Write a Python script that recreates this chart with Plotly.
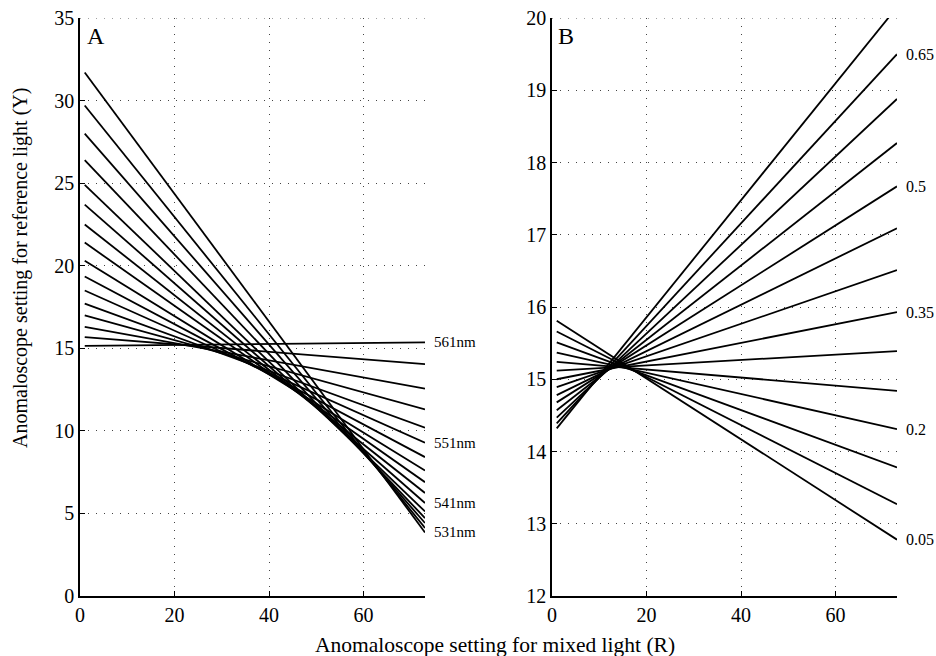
import plotly.graph_objects as go

# ---------------- data ----------------
R_ENDS = [1, 73]  # mixed-light settings where each line starts / ends

# Panel A: wavelengths (nm) with Y at R=1 and Y at R=73
A_WAVELENGTHS = [531, 533, 535, 537, 539, 541, 543, 545, 547, 549, 551, 553, 555, 557, 559, 561]
A_Y_START = [31.7, 29.7, 28.0, 26.4, 24.9, 23.7, 22.5, 21.4, 20.3, 19.35, 18.5, 17.7, 17.0, 16.3, 15.67, 15.15]
A_Y_END = [3.85, 4.12, 4.42, 4.72, 5.12, 5.63, 6.24, 6.89, 7.6, 8.41, 9.28, 10.19, 11.3, 12.56, 14.04, 15.36]
A_LABELLED = [561, 551, 541, 531]

# Panel B: proportions with Y at R=1 and Y at R=73
B_PROPORTIONS = [0.05, 0.10, 0.15, 0.20, 0.25, 0.30, 0.35, 0.40, 0.45, 0.50, 0.55, 0.60, 0.65, 0.70]
B_Y_START = [15.81, 15.66, 15.51, 15.37, 15.24, 15.12, 15.0, 14.89, 14.78, 14.68, 14.57, 14.47, 14.39, 14.32]
B_Y_END = [12.78, 13.27, 13.78, 14.31, 14.84, 15.39, 15.93, 16.51, 17.09, 17.67, 18.27, 18.88, 19.50, 20.15]
B_LABELLED = [0.65, 0.5, 0.35, 0.2, 0.05]

X_TICKS = [0, 20, 40, 60]
A_Y_TICKS = [0, 5, 10, 15, 20, 25, 30, 35]
B_Y_TICKS = [12, 13, 14, 15, 16, 17, 18, 19, 20]

X_TITLE = "Anomaloscope setting for mixed light (R)"
Y_TITLE = "Anomaloscope setting for reference light (Y)"

# ---------------- figure ----------------
SERIF = "Liberation Serif, Times New Roman, serif"
W, H = 936, 656
LINE = dict(color="black", width=1.8)
GRID_COLOR = "#444"
GRID_DASH = "1px,7px"

fig = go.Figure()

for wl, y0, y1 in zip(A_WAVELENGTHS, A_Y_START, A_Y_END):
    fig.add_trace(go.Scatter(x=R_ENDS, y=[y0, y1], mode="lines", line=LINE,
                             xaxis="x", yaxis="y", showlegend=False, hoverinfo="skip",
                             name=f"{wl}nm"))

for p, y0, y1 in zip(B_PROPORTIONS, B_Y_START, B_Y_END):
    fig.add_trace(go.Scatter(x=R_ENDS, y=[y0, y1], mode="lines", line=LINE,
                             xaxis="x2", yaxis="y2", showlegend=False, hoverinfo="skip",
                             name=str(p)))

annotations = []
for wl in A_LABELLED:
    i = A_WAVELENGTHS.index(wl)
    annotations.append(dict(x=R_ENDS[1], y=A_Y_END[i], xref="x", yref="y",
                            text=f"{wl}nm", showarrow=False, xanchor="left",
                            yanchor="middle", xshift=7,
                            font=dict(family=SERIF, size=15, color="black")))
for p in B_LABELLED:
    i = B_PROPORTIONS.index(p)
    annotations.append(dict(x=R_ENDS[1], y=B_Y_END[i], xref="x2", yref="y2",
                            text=f"{p:g}", showarrow=False, xanchor="left",
                            yanchor="middle", xshift=7,
                            font=dict(family=SERIF, size=16, color="black")))

annotations.append(dict(x=0, y=1, xref="x domain", yref="y domain", text="A",
                        showarrow=False, xanchor="left", yanchor="top",
                        xshift=5, yshift=-3,
                        font=dict(family=SERIF, size=24, color="black")))
annotations.append(dict(x=0, y=1, xref="x2 domain", yref="y2 domain", text="B",
                        showarrow=False, xanchor="left", yanchor="top",
                        xshift=4, yshift=-3,
                        font=dict(family=SERIF, size=24, color="black")))

annotations.append(dict(x=495 / W, y=(H - 645) / H, xref="paper", yref="paper",
                        text=X_TITLE, showarrow=False, xanchor="center", yanchor="middle",
                        font=dict(family=SERIF, size=21.5, color="black")))
annotations.append(dict(x=20 / W, y=(H - 268) / H, xref="paper", yref="paper",
                        text=Y_TITLE, showarrow=False, xanchor="center", yanchor="middle",
                        textangle=-90,
                        font=dict(family=SERIF, size=20, color="black")))

# dotted grid line along the top edge of each panel (top tick value)
shapes = [
    dict(type="line", xref="x domain", yref="y", x0=0, x1=1,
         y0=A_Y_TICKS[-1], y1=A_Y_TICKS[-1],
         line=dict(color=GRID_COLOR, width=1, dash=GRID_DASH), layer="below"),
    dict(type="line", xref="x2 domain", yref="y2", x0=0, x1=1,
         y0=B_Y_TICKS[-1], y1=B_Y_TICKS[-1],
         line=dict(color=GRID_COLOR, width=1, dash=GRID_DASH), layer="below"),
]

axis_common = dict(
    showline=True, linecolor="black", linewidth=1.5,
    ticks="inside", ticklen=5, tickwidth=1.2, tickcolor="black",
    showgrid=True, gridcolor=GRID_COLOR, gridwidth=1, griddash=GRID_DASH,
    zeroline=False, automargin=False,
    tickfont=dict(family=SERIF, size=20, color="black"),
)

y_dom = [(H - 596) / H, (H - 18) / H]

fig.update_layout(
    width=W, height=H,
    margin=dict(l=0, r=0, t=0, b=0),
    paper_bgcolor="white", plot_bgcolor="white",
    xaxis=dict(domain=[80 / W, 425 / W], range=[0, 73], tickvals=X_TICKS,
               anchor="y", **axis_common),
    yaxis=dict(domain=y_dom, range=[0, 35], tickvals=A_Y_TICKS, anchor="x",
               ticklabelstandoff=0, **axis_common),
    xaxis2=dict(domain=[552 / W, 897 / W], range=[0, 73], tickvals=X_TICKS,
                anchor="y2", **axis_common),
    yaxis2=dict(domain=y_dom, range=[12, 20], tickvals=B_Y_TICKS, anchor="x2",
                **axis_common),
    annotations=annotations,
    shapes=shapes,
)

fig.write_html(
    "out.html",
    config={"displayModeBar": False},
    post_script="document.body.style.margin='0';document.body.style.overflow='hidden';",
)
